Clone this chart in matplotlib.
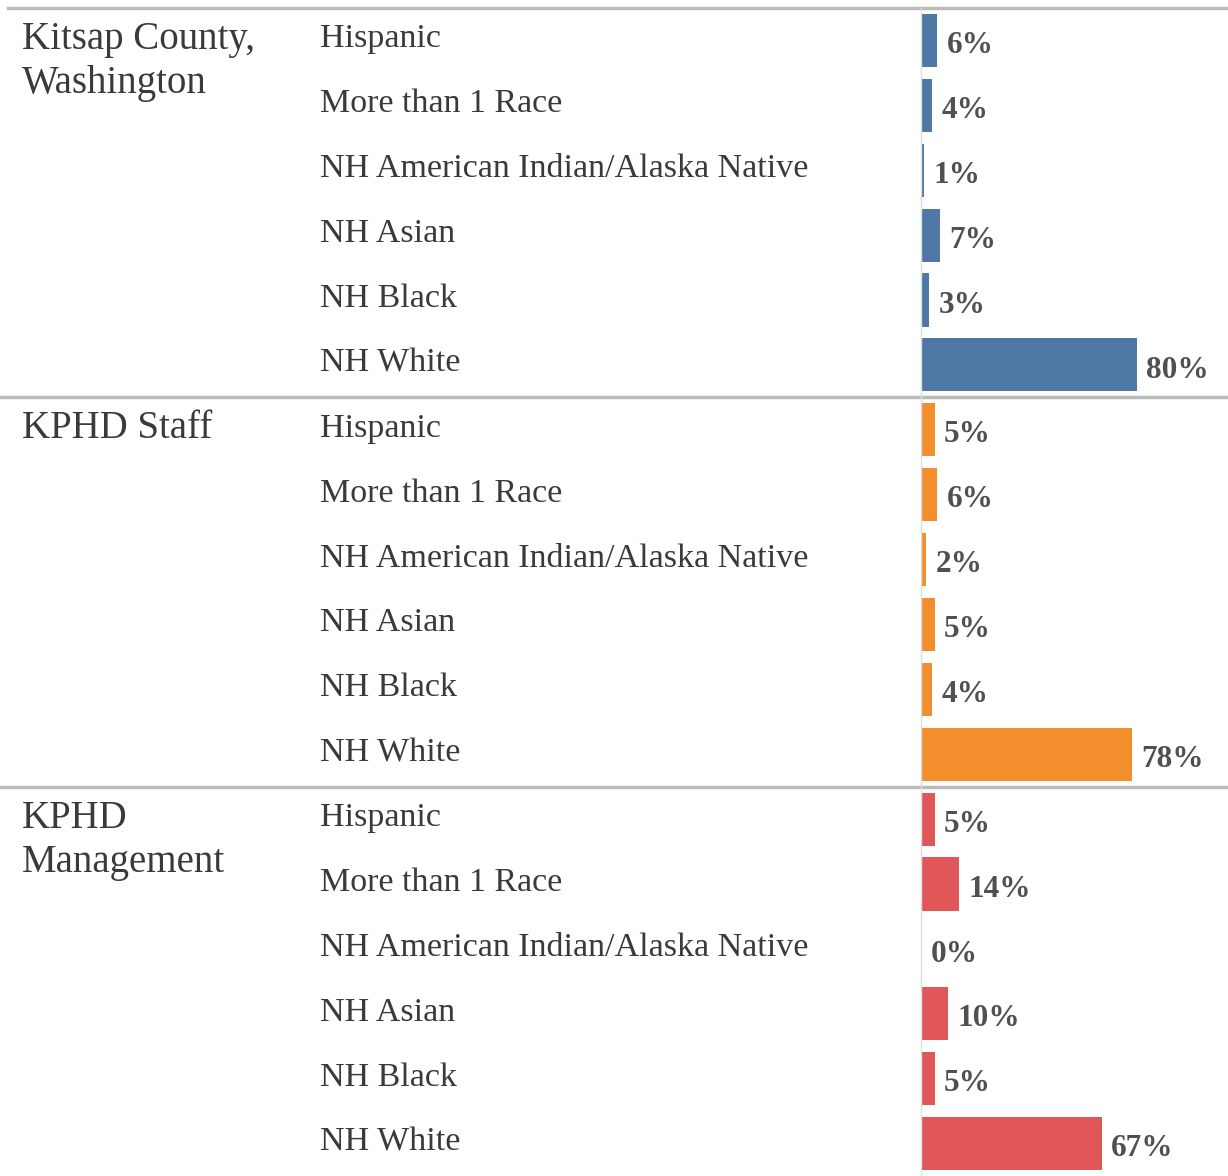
"""Race/ethnicity breakdown: county vs KPHD staff vs management."""
import matplotlib
matplotlib.use('Agg')
import matplotlib.pyplot as plt
import matplotlib.transforms as mtransforms

groups = ['Kitsap County,\nWashington', 'KPHD Staff', 'KPHD\nManagement']
races = ['Hispanic', 'More than 1 Race', 'NH American Indian/Alaska Native',
         'NH Asian', 'NH Black', 'NH White']
county = [6, 4, 1, 7, 3, 80]
staff = [5, 6, 2, 5, 4, 78]
management = [5, 14, 0, 10, 5, 67]
colors = ['#4e79a7', '#f28e2b', '#e15759']

plt.rcParams['font.family'] = ['Liberation Serif', 'DejaVu Serif']

W, H = 1228, 1176
fig = plt.figure(figsize=(W / 100, H / 100), dpi=100)
x0 = 921
top = 8
ax = fig.add_axes([x0 / W, 0, (W - x0) / W, (H - top) / H])
ax.set_xlim(0, (W - x0) / 2.7)
ax.set_ylim(18, 0)
ax.axis('off')

# x in figure fraction, y in data rows
trans = mtransforms.blended_transform_factory(fig.transFigure, ax.transData)

for g, (name, vals, col) in enumerate(zip(groups, [county, staff, management], colors)):
    base = g * 6
    ys = [base + i + 0.5 for i in range(len(races))]
    ax.barh(ys, vals, height=0.82, color=col)
    for y, v, r in zip(ys, vals, races):
        ax.text(v + 3.5, y + 0.08, f'{v}%', va='center', ha='left',
                fontsize=22.5, fontweight='bold', color='#505050')
        ax.text(320 / W, y - 0.02, r, transform=trans, va='center', ha='left',
                fontsize=24.5, color='#3a3a3a')
    ax.text(22 / W, base + 0.2, name, transform=trans, va='top', ha='left',
            fontsize=28, color='#3a3a3a', linespacing=1.25)

# panel separators
for yy in [0, 6, 12]:
    ax.plot([8 / W if yy == 0 else 0, 1], [yy, yy], transform=trans,
            color='#bbbbbb', lw=2.5, clip_on=False)
ax.plot([0, 0], [0, 18], color='#dddddd', lw=1, clip_on=False)

fig.savefig('out.png', dpi=100)
